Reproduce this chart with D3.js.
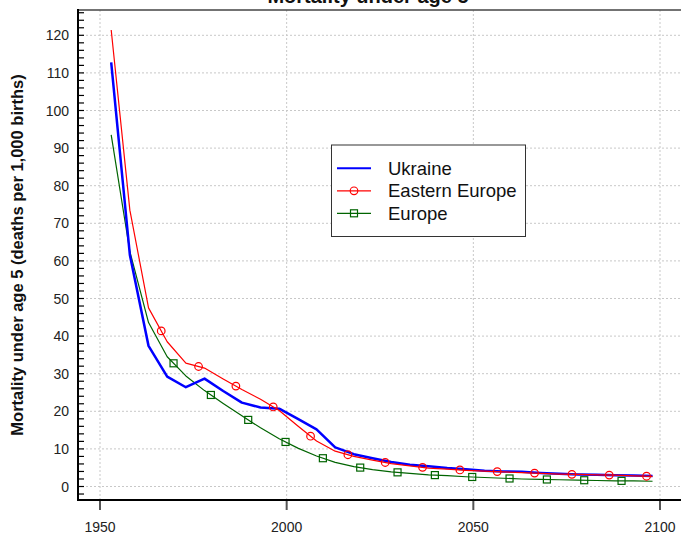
<!DOCTYPE html>
<html>
<head>
<meta charset="utf-8">
<script src="https://cdn.jsdelivr.net/npm/d3@7"></script>
<style>
  body { margin: 0; background: #fff; }
  svg { display: block; font-family: "Liberation Sans", Arial, sans-serif; }
</style>
</head>
<body>
<div id="chart"></div>
<script>
// Data: mid-points of 5-year periods
const years = d3.range(1953, 2099, 5);
const ukraine = [112.8, 61.6, 37.4, 29.2, 26.4, 28.7, 25.4, 22.3, 21.0, 20.7,
  18.0, 15.2, 10.4, 8.6, 7.5, 6.5, 5.8, 5.4, 4.9, 4.6,
  4.2, 4.0, 3.9, 3.6, 3.4, 3.2, 3.1, 3.0, 2.9, 2.8];
const easternEurope = [121.4, 73.5, 47.5, 38.5, 32.8, 31.5, 28.6, 25.8, 23.2, 20.2,
  16.1, 12.1, 9.4, 8.0, 7.0, 6.1, 5.5, 4.9, 4.6, 4.3,
  4.1, 3.9, 3.7, 3.5, 3.3, 3.2, 3.1, 3.0, 2.8, 2.7];
const europe = [93.5, 62.5, 43.6, 34.5, 29.4, 25.5, 22.1, 18.8, 15.6, 12.7,
  10.2, 8.1, 6.4, 5.3, 4.5, 3.9, 3.5, 3.1, 2.9, 2.6,
  2.4, 2.2, 2.0, 1.9, 1.8, 1.7, 1.6, 1.5, 1.5, 1.4];

// marker positions along the lines (years)
const circleYears = d3.range(0, 14).map(k => 1966.4 + 10 * k);
const squareYears = d3.range(0, 13).map(k => 1969.7 + 10 * k);

const xTicks = [1950, 2000, 2050, 2100];
const yTicks = d3.range(0, 121, 10);
const yMinor = d3.range(-2, 127, 2);

const W = 681, H = 535;
const frame = { left: 78, right: 681, top: 10, bottom: 500 };

const svg = d3.select("#chart").append("svg")
  .attr("width", W).attr("height", H);

const x = d3.scaleLinear().domain([1950, 2100]).range([100, 660]);
const y = d3.scaleLinear().domain([0, 120]).range([486.5, 35.3]);

// title (mostly clipped at top, as in the original)
svg.append("text")
  .attr("x", 368).attr("y", 3)
  .attr("text-anchor", "middle")
  .style("font-size", "20px").style("font-weight", "bold")
  .attr("fill", "#111")
  .text("Mortality under age 5");

// grid
svg.append("g").selectAll("line").data(yTicks).join("line")
  .attr("x1", frame.left).attr("x2", frame.right)
  .attr("y1", d => y(d)).attr("y2", d => y(d))
  .attr("stroke", "#c8c8c8").attr("stroke-dasharray", "2,2");
svg.append("g").selectAll("line").data(xTicks).join("line")
  .attr("x1", d => x(d)).attr("x2", d => x(d))
  .attr("y1", frame.top).attr("y2", frame.bottom)
  .attr("stroke", "#c8c8c8").attr("stroke-dasharray", "2,2");

// frame
svg.append("line")
  .attr("x1", frame.left).attr("x2", frame.right)
  .attr("y1", frame.top).attr("y2", frame.top)
  .attr("stroke", "#444").attr("stroke-width", 1.5);

// y axis
svg.append("g").selectAll("line").data(yMinor).join("line")
  .attr("x1", frame.left).attr("x2", frame.left + 6)
  .attr("y1", d => y(d)).attr("y2", d => y(d))
  .attr("stroke", "#000").attr("stroke-width", 1.2);
svg.append("g").selectAll("text").data(yTicks).join("text")
  .attr("x", 69).attr("y", d => y(d) + 5)
  .attr("text-anchor", "end")
  .style("font-size", "14px").attr("fill", "#222")
  .text(d => d);
svg.append("line")
  .attr("x1", frame.left).attr("x2", frame.left)
  .attr("y1", frame.top - 1).attr("y2", frame.bottom + 1)
  .attr("stroke", "#000").attr("stroke-width", 2);

// x axis
svg.append("g").selectAll("line").data(xTicks).join("line")
  .attr("x1", d => x(d)).attr("x2", d => x(d))
  .attr("y1", frame.bottom).attr("y2", frame.bottom + 10)
  .attr("stroke", "#555").attr("stroke-width", 2);
svg.append("g").selectAll("text").data(xTicks).join("text")
  .attr("x", d => x(d)).attr("y", 532)
  .attr("text-anchor", "middle")
  .style("font-size", "14px").attr("fill", "#222")
  .text(d => d);
svg.append("line")
  .attr("x1", frame.left - 1).attr("x2", frame.right)
  .attr("y1", frame.bottom).attr("y2", frame.bottom)
  .attr("stroke", "#000").attr("stroke-width", 2);

// y label
svg.append("text")
  .attr("transform", "translate(23,255) rotate(-90)")
  .attr("text-anchor", "middle")
  .style("font-size", "16.5px").style("font-weight", "bold")
  .attr("fill", "#111")
  .text("Mortality under age 5 (deaths per 1,000 births)");

// lines
const line = d3.line().x(d => x(d[0])).y(d => y(d[1]));
const series = [
  { name: "Europe", values: europe, color: "#006400", width: 1.2 },
  { name: "Ukraine", values: ukraine, color: "#0000ff", width: 2.5 },
  { name: "Eastern Europe", values: easternEurope, color: "#ff0000", width: 1.2 }
];
series.forEach(s => {
  svg.append("path")
    .datum(years.map((yr, i) => [yr, s.values[i]]))
    .attr("d", line)
    .attr("fill", "none")
    .attr("stroke", s.color)
    .attr("stroke-width", s.width)
    .attr("stroke-linejoin", "round");
});

// value on a series at a given year, along the drawn line
function valueAt(values, t) {
  const i = Math.min(Math.max(d3.bisectRight(years, t) - 1, 0), years.length - 2);
  const f = (t - years[i]) / (years[i + 1] - years[i]);
  return values[i] + f * (values[i + 1] - values[i]);
}

svg.append("g").selectAll("circle").data(circleYears).join("circle")
  .attr("cx", d => x(d)).attr("cy", d => y(valueAt(easternEurope, d)))
  .attr("r", 3.8)
  .attr("fill", "none").attr("stroke", "#ff0000").attr("stroke-width", 1.2);

svg.append("g").selectAll("rect").data(squareYears).join("rect")
  .attr("x", d => x(d) - 3.5).attr("y", d => y(valueAt(europe, d)) - 3.5)
  .attr("width", 7).attr("height", 7)
  .attr("fill", "none").attr("stroke", "#006400").attr("stroke-width", 1.2);

// legend
const lg = svg.append("g");
lg.append("rect")
  .attr("x", 331.5).attr("y", 145).attr("width", 194).attr("height", 91.5)
  .attr("fill", "#fff").attr("stroke", "#333").attr("stroke-width", 1);
const legendItems = [
  { name: "Ukraine", color: "#0000ff", width: 2, marker: null },
  { name: "Eastern Europe", color: "#ff0000", width: 1.2, marker: "circle" },
  { name: "Europe", color: "#006400", width: 1.2, marker: "square" }
];
legendItems.forEach((d, i) => {
  const cy = 168.3 + i * 22.5;
  lg.append("line")
    .attr("x1", 337).attr("x2", 371).attr("y1", cy).attr("y2", cy)
    .attr("stroke", d.color).attr("stroke-width", d.width);
  if (d.marker === "circle") {
    lg.append("circle").attr("cx", 354).attr("cy", cy).attr("r", 3.8)
      .attr("fill", "none").attr("stroke", d.color).attr("stroke-width", 1.2);
  } else if (d.marker === "square") {
    lg.append("rect").attr("x", 350.5).attr("y", cy - 3.5)
      .attr("width", 7).attr("height", 7)
      .attr("fill", "none").attr("stroke", d.color).attr("stroke-width", 1.2);
  }
  lg.append("text")
    .attr("x", 388).attr("y", cy + 6.5)
    .style("font-size", "18.5px").attr("fill", "#111")
    .text(d.name);
});
</script>
</body>
</html>
